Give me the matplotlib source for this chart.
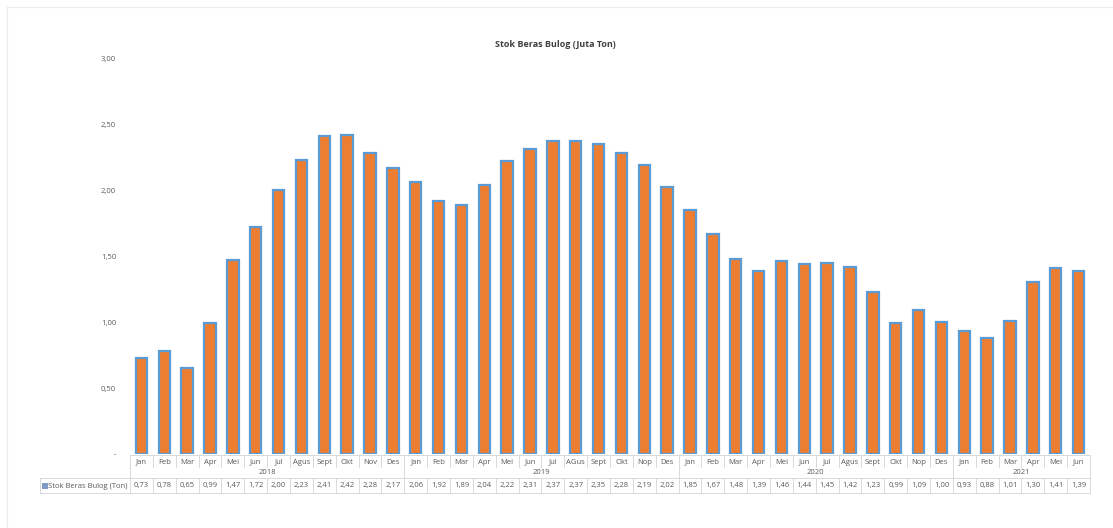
import numpy as np
import matplotlib.pyplot as plt
from matplotlib.lines import Line2D
from matplotlib.patches import Rectangle
import matplotlib.transforms as mtransforms

plt.rcParams['font.family'] = ['Open Sans', 'DejaVu Sans']

# Stok beras Bulog per bulan (juta ton), Jan 2018 - Jun 2021
bulan = ['Jan', 'Feb', 'Mar', 'Apr', 'Mei', 'Jun', 'Jul', 'Agus', 'Sept', 'Okt', 'Nov', 'Des',
         'Jan', 'Feb', 'Mar', 'Apr', 'Mei', 'Jun', 'Jul', 'AGus', 'Sept', 'Okt', 'Nop', 'Des',
         'Jan', 'Feb', 'Mar', 'Apr', 'Mei', 'Jun', 'Jul', 'Agus', 'Sept', 'Okt', 'Nop', 'Des',
         'Jan', 'Feb', 'Mar', 'Apr', 'Mei', 'Jun']
tahun = ['2018', '2019', '2020', '2021']
jumlah_bulan = [12, 12, 12, 6]
stok = [0.73, 0.78, 0.65, 0.99, 1.47, 1.72, 2.00, 2.23, 2.41, 2.42, 2.28, 2.17,
        2.06, 1.92, 1.89, 2.04, 2.22, 2.31, 2.37, 2.37, 2.35, 2.28, 2.19, 2.02,
        1.85, 1.67, 1.48, 1.39, 1.46, 1.44, 1.45, 1.42, 1.23, 0.99, 1.09, 1.00,
        0.93, 0.88, 1.01, 1.30, 1.41, 1.39]

oranye = '#ED7D31'
biru = '#5B9BD5'
abu = '#595959'
garis = '#D9D9D9'
fs = 5.5

W, H = 1113, 528
fig = plt.figure(figsize=(W / 100, H / 100), dpi=100)
# area plot dalam piksel
x0, x1, y_bawah, y_atas = 130, 1090, 454, 58
ax = fig.add_axes([x0 / W, 1 - y_bawah / H, (x1 - x0) / W, (y_bawah - y_atas) / H])

n = len(stok)
x = np.arange(n)
ax.bar(x, stok, width=0.5, color=oranye, edgecolor=biru, linewidth=1.6)
ax.set_xlim(-0.5, n - 0.5)
ax.set_ylim(0, 3)

ax.set_yticks(np.arange(0, 3.01, 0.5))
ax.set_yticklabels(['-'] + ['{:.2f}'.format(v).replace('.', ',') for v in np.arange(0.5, 3.01, 0.5)])
ax.tick_params(axis='y', length=0, pad=10, labelsize=fs, labelcolor=abu)
ax.set_xticks([])
for s in ax.spines.values():
    s.set_visible(False)

fig.text(555 / W, 1 - 44 / H, 'Stok Beras Bulog (Juta Ton)', ha='center', va='center',
         fontsize=6.5, fontweight='bold', color='#404040')

# bingkai tipis area grafik
ftr = fig.transFigure
fig.add_artist(Line2D([7 / W, 7 / W], [1 - 7 / H, 0], transform=ftr, color='#EBEBEB', lw=0.8))
fig.add_artist(Line2D([7 / W, 1], [1 - 7 / H, 1 - 7 / H], transform=ftr, color='#EBEBEB', lw=0.8))

# tabel data di bawah grafik (x: data, y: piksel gambar)
def py(p):
    return 1 - p / H

trans = mtransforms.blended_transform_factory(ax.transData, fig.transFigure)

def hline(xa, xb, p):
    fig.add_artist(Line2D([xa, xb], [py(p), py(p)], transform=trans, color=garis, lw=0.7))

def vline(xv, pa, pb):
    fig.add_artist(Line2D([xv, xv], [py(pa), py(pb)], transform=trans, color=garis, lw=0.7))

y_axis, y_bln, y_thn, y_nilai = 455, 467, 478, 493
hline(-0.5, n - 0.5, y_axis)
hline(-0.5, n - 0.5, y_thn)
hline(-0.5, n - 0.5, y_nilai)
for p in (y_thn, y_nilai):
    fig.add_artist(Line2D([40 / W, x0 / W], [py(p), py(p)], transform=ftr, color=garis, lw=0.7))

batas = np.cumsum([0] + jumlah_bulan)
for i in range(n + 1):
    if i in batas:
        vline(i - 0.5, y_axis, y_nilai)
    else:
        vline(i - 0.5, y_axis, y_bln)
        vline(i - 0.5, y_thn, y_nilai)
fig.add_artist(Line2D([40 / W, 40 / W], [py(y_thn), py(y_nilai)], transform=ftr, color=garis, lw=0.7))

for i in range(n):
    fig.text(i, py(462), bulan[i], transform=trans, ha='center', va='center', fontsize=fs, color=abu)
    fig.text(i, py(486), '{:.2f}'.format(stok[i]).replace('.', ','), transform=trans,
             ha='center', va='center', fontsize=fs, color=abu)
for k, th in enumerate(tahun):
    tengah = (batas[k] + batas[k + 1] - 1) / 2
    fig.text(tengah, py(472), th, transform=trans, ha='center', va='center', fontsize=fs, color=abu)

fig.add_artist(Rectangle((42 / W, py(489)), 6 / W, 6 / H, transform=ftr,
                         facecolor='#7F9CC4', edgecolor='none'))
fig.text(48 / W, py(486), 'Stok Beras Bulog (Ton)', transform=ftr, ha='left', va='center',
         fontsize=fs, color=abu)

fig.savefig('out.png', dpi=100)
